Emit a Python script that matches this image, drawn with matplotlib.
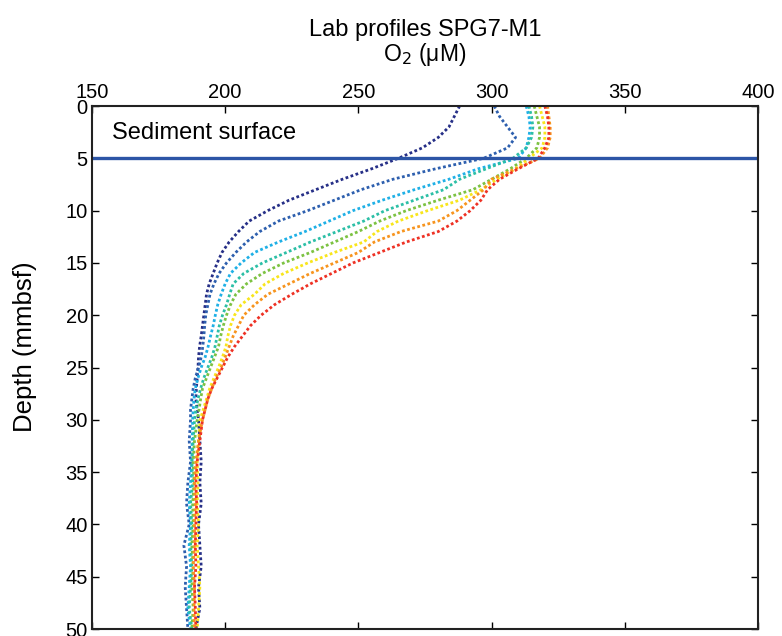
import numpy as np
import matplotlib
matplotlib.use('Agg')
import matplotlib.pyplot as plt

plt.rcParams['font.family'] = ['Liberation Sans', 'DejaVu Sans']

#### depth grid (mmbsf) and O2 (uM)
depth = [0, 1, 2, 3, 4, 5, 6, 7, 8, 9, 10, 11, 12, 13, 14, 15, 16, 17, 18, 19,
         20, 21, 22, 23, 24, 25, 26, 27, 28, 29, 30, 32, 34, 36, 38, 40, 42, 44, 46, 48, 50]

o2_p1 = [288, 286, 284, 280, 274, 265, 255, 244, 234, 224, 216, 209, 205, 201.5, 198.8, 197, 195.5, 194, 193, 192.5,
         192, 191.5, 191, 190.4, 190, 189.8, 189.5, 189.2, 189, 189.5, 190, 190.5, 191, 190.5, 191, 190, 190.5, 191, 190, 190.5, 189]
o2_p2 = [301, 303, 306, 309, 306, 297, 279, 263, 251, 241, 231, 220, 213, 208, 204, 200.5, 197.7, 195.8, 194.3, 193.5,
         192.7, 192.3, 192, 191.6, 191, 190, 188.8, 188, 187.5, 187, 187, 186.5, 187, 186, 185.5, 186.5, 184.5, 185.5, 185, 185.5, 186]
o2_p3 = [313, 314, 314.5, 314, 313, 310, 295, 284, 271, 259, 248, 239, 230, 220, 211, 206, 202, 200, 198.5, 197.2,
         196.3, 195.5, 194.5, 193.6, 192.5, 191, 189.8, 188.8, 188.3, 188, 187.8, 187.6, 187.5, 187, 186.5, 187, 186.5, 187, 186.5, 186, 187]
o2_p4 = [314, 315, 315.5, 315, 313, 308, 298, 288, 282, 271, 260, 252, 242, 232, 223, 214, 207, 203, 201.7, 200.5,
         199, 197.8, 197, 196.2, 195, 193.5, 192, 190.8, 189.8, 189, 188.5, 188, 187.5, 187.8, 187, 187.5, 187, 187.5, 187, 186.5, 187.5]
o2_p5 = [316, 317, 318, 318, 317, 313, 307, 300, 293, 280, 268, 258, 250, 241, 232, 222, 214, 208, 204, 202,
         200.5, 199.3, 198.3, 197.5, 196, 194.5, 193, 191.5, 190.8, 190.2, 189.5, 188.5, 188, 188.3, 187.8, 188, 187.5, 188, 187.5, 188, 187.5]
o2_p6 = [318, 319, 320, 320, 319, 314, 309, 302, 296, 288, 276, 265, 257, 252, 241, 231, 222, 215, 211, 206,
         203.5, 202, 201, 200.3, 199, 197.5, 195.8, 194.2, 193, 191.8, 190.6, 190, 189.5, 189.8, 189.5, 190, 189.5, 190, 190.5, 190, 189.5]
o2_p7 = [321, 321.5, 322, 322, 321, 318, 309, 300, 297, 292, 287, 280, 266, 256, 250, 241, 232, 224, 216, 211,
         207, 205, 203, 201.5, 200, 198.5, 196.5, 195, 193.5, 192.5, 191.5, 190, 189, 188.5, 188.8, 188.5, 188.5, 188, 188.5, 188.3, 188.5]
o2_p8 = [320, 321, 321.5, 321.5, 320, 317.5, 310, 303, 298.5, 296, 292, 287, 280, 268, 258, 248, 240, 232, 225, 218.5,
         213.5, 209.5, 206.5, 203.5, 201, 199, 197, 195, 193.5, 192.5, 191.5, 190.5, 189.5, 189, 189.3, 189, 188.8, 189, 188.5, 188.8, 189]

profiles = [o2_p1, o2_p2, o2_p3, o2_p4, o2_p5, o2_p6, o2_p7, o2_p8]
colors = ['#262f87', '#2d5fae', '#1fb0e6', '#2cbfa6', '#7cc242', '#f8e51c', '#f7941e', '#ee3124']

surface_depth = 5

fig = plt.figure(figsize=(7.82, 6.36), dpi=100)
ax = fig.add_axes([0.1176, 0.011, 0.8517, 0.8223])

for o2, c in zip(profiles, colors):
    ax.plot(o2, depth, color=c, lw=2.0, ls=(0, (1, 0.9)))

ax.axhline(surface_depth, color='#2c55a6', lw=2.4)
ax.text(157.5, 2.6, 'Sediment surface', fontsize=17, va='center', ha='left')

ax.set_xlim(150, 400)
ax.set_ylim(50, 0)
ax.set_xticks(np.arange(150, 401, 50))
ax.set_yticks(np.arange(0, 51, 5))
ax.xaxis.set_label_position('top')
ax.tick_params(direction='in', top=True, bottom=True, left=True, right=True,
               labeltop=True, labelbottom=False, labelsize=14.5, length=5, width=1, pad=3)
for s in ax.spines.values():
    s.set_linewidth(1.5)
    s.set_color('#222222')

ax.set_xlabel('O$_2$ (μM)', fontsize=16.5, labelpad=16)
ax.set_ylabel('Depth (mmbsf)', fontsize=18.5)
ax.yaxis.set_label_coords(-0.082, 0.54)
ax.set_title('Lab profiles SPG7-M1', fontsize=17, pad=1)

fig.savefig('out.png', dpi=100)
